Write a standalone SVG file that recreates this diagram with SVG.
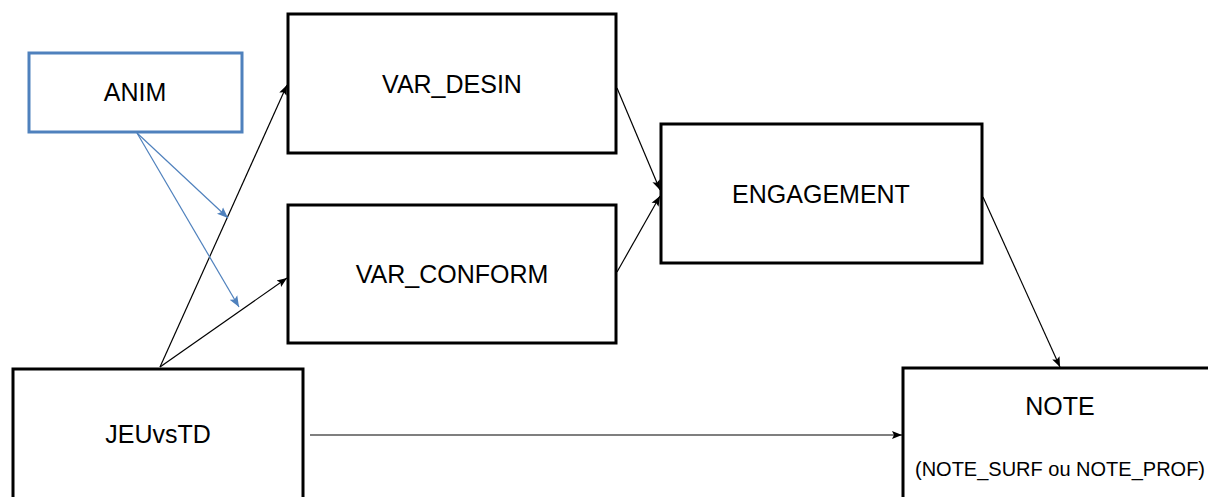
<svg xmlns="http://www.w3.org/2000/svg" width="1208" height="497" viewBox="0 0 1208 497">
<style>
.box{fill:#fff;stroke:#000;stroke-width:3}
.blue{fill:#fff;stroke:#4F81BD;stroke-width:3}
.t{font-family:"Liberation Sans",Arial,sans-serif;font-size:25px;fill:#000;text-anchor:middle}
.s{font-size:20px}
.c{stroke:#000;stroke-width:1.2;fill:none;marker-end:url(#ah)}
.cb{stroke:#4F81BD;stroke-width:1.2;fill:none;marker-end:url(#ahb)}
</style>
<defs>
<marker id="ah" viewBox="0 0 10 10" refX="10" refY="5" markerWidth="10" markerHeight="10" markerUnits="userSpaceOnUse" orient="auto"><path d="M0,1 L10,5 L0,9 L2,5 Z" fill="#000"/></marker>
<marker id="ahb" viewBox="0 0 10 10" refX="10" refY="5" markerWidth="11" markerHeight="11" markerUnits="userSpaceOnUse" orient="auto"><path d="M0,1 L10,5 L0,9 L2,5 Z" fill="#4F81BD"/></marker>
</defs>
<rect width="1208" height="497" fill="#fff"/>
<g id="n-anim"><rect class="blue" x="29" y="53" width="213" height="79"/><text class="t" x="135" y="101">ANIM</text></g>
<g id="n-vardesin"><rect class="box" x="288" y="14" width="328" height="139"/><text class="t" x="452" y="93">VAR_DESIN</text></g>
<g id="n-varconform"><rect class="box" x="288" y="205" width="328" height="138"/><text class="t" x="452" y="283">VAR_CONFORM</text></g>
<g id="n-engagement"><rect class="box" x="661" y="124" width="321" height="139"/><text class="t" x="821" y="203">ENGAGEMENT</text></g>
<g id="n-jeuvstd"><rect class="box" x="13" y="369" width="290" height="140"/><text class="t" x="158" y="443">JEUvsTD</text></g>
<g id="n-note"><rect class="box" x="903" y="368" width="320" height="140"/><text class="t" x="1060" y="415">NOTE</text><text class="t s" x="1060" y="476">(NOTE_SURF ou NOTE_PROF)</text></g>
<g id="connectors">
<line class="c" x1="160" y1="367" x2="287" y2="85"/>
<line class="c" x1="160" y1="367" x2="287" y2="278"/>
<line class="c" x1="617" y1="88" x2="660" y2="190"/>
<line class="c" x1="617" y1="272" x2="660" y2="196"/>
<line class="c" x1="983" y1="197" x2="1060" y2="367"/>
<line class="c" x1="310" y1="435" x2="902" y2="435"/>
<line class="cb" x1="137" y1="133" x2="228" y2="218"/>
<line class="cb" x1="137" y1="133" x2="239" y2="307"/>
</g>
</svg>
